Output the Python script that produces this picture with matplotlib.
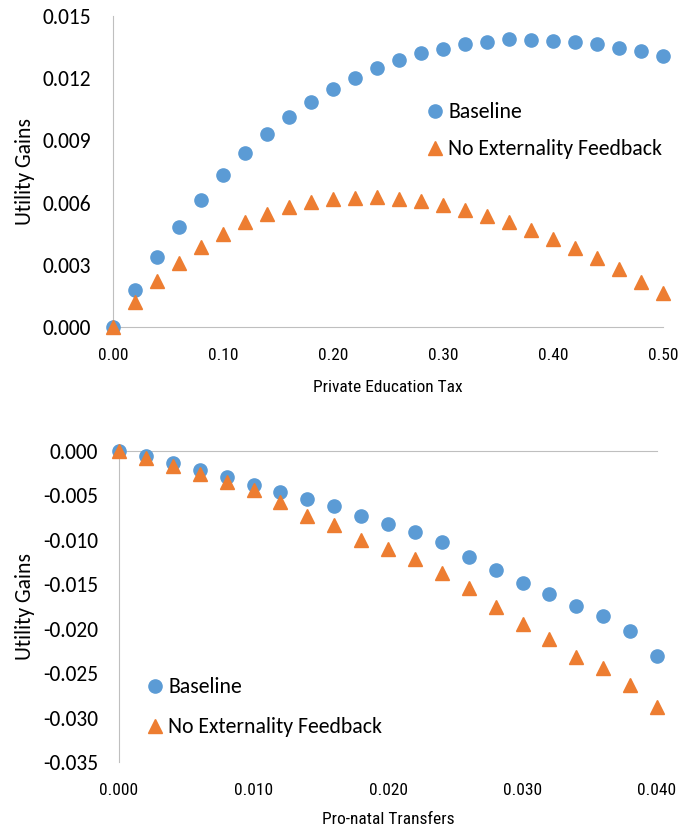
import matplotlib
matplotlib.use("Agg")
import matplotlib.pyplot as plt
from matplotlib.ticker import FixedLocator

plt.rcParams['font.family'] = ['Carlito', 'DejaVu Sans']
xfont = ['Roboto Condensed', 'Carlito']

blue = '#5B9BD5'
orange = '#ED7D31'
grey = '#BFBFBF'

# Top panel: private education tax
tax = [round(0.02 * i, 2) for i in range(26)]
tax_baseline = [0.0, 0.00179, 0.0034, 0.00484, 0.00614, 0.00731, 0.00837, 0.0093, 0.01015,
                0.01085, 0.01147, 0.0120, 0.01247, 0.01289, 0.01321, 0.01343, 0.01365,
                0.01377, 0.01387, 0.01385, 0.0138, 0.01376, 0.01365, 0.01348, 0.01332, 0.01308]
tax_no_ext = [0.0, 0.00122, 0.00223, 0.00311, 0.00387, 0.00449, 0.00505, 0.00545, 0.00579,
              0.00603, 0.00618, 0.00624, 0.00628, 0.00619, 0.0061, 0.0059, 0.00566,
              0.00537, 0.00505, 0.00469, 0.00426, 0.00381, 0.00331, 0.00279, 0.00219, 0.00163]

# Bottom panel: pro-natal transfers
transfers = [round(0.002 * i, 3) for i in range(21)]
tr_baseline = [0.0, -0.00056, -0.00135, -0.00218, -0.00293, -0.00379, -0.00458, -0.00537,
               -0.00616, -0.00728, -0.00818, -0.00916, -0.01029, -0.01194, -0.0134, -0.01486,
               -0.01614, -0.01749, -0.01862, -0.02027, -0.02309]
tr_no_ext = [0.0, -0.00083, -0.00173, -0.00255, -0.00349, -0.00443, -0.00571, -0.00732,
             -0.00837, -0.01002, -0.011, -0.0122, -0.0137, -0.01546, -0.01753, -0.01948,
             -0.0212, -0.02316, -0.02447, -0.02635, -0.02886]

top_yticks = [0.0, 0.003, 0.006, 0.009, 0.012, 0.015]
top_xticks = [0.0, 0.1, 0.2, 0.3, 0.4, 0.5]
bot_yticks = [0.0, -0.005, -0.01, -0.015, -0.02, -0.025, -0.03, -0.035]
bot_xticks = [0.0, 0.01, 0.02, 0.03, 0.04]

W, H = 683, 835
fig = plt.figure(figsize=(W / 100, H / 100), dpi=100)

fs_x = 12.5   # x axis text (ticks + title), condensed face
fs_y = 15.5   # y tick labels
fs_lab = 15.6
fs_leg = 15.7


def px_axes(left, top, right, bottom):
    return fig.add_axes([left / W, 1 - bottom / H, (right - left) / W, (bottom - top) / H])


def style_axes(ax, xfmt, xticks, yticks, ypad, xpad, ylab_x):
    ax.xaxis.set_major_locator(FixedLocator(xticks))
    ax.yaxis.set_major_locator(FixedLocator(yticks))
    ax.set_xticklabels([xfmt.format(v) for v in xticks], fontsize=fs_x, family=xfont)
    ax.set_yticklabels(["{:.3f}".format(v) for v in yticks], fontsize=fs_y)
    ax.tick_params(length=0)
    ax.tick_params(axis='y', pad=ypad)
    ax.tick_params(axis='x', pad=xpad)
    ax.spines['right'].set_visible(False)
    ax.set_ylabel('Utility Gains', fontsize=fs_lab)
    ax.yaxis.set_label_coords(ylab_x, 0.5)


# ---- top chart
ax1 = px_axes(113, 16, 663, 327)
ax1.plot(tax, tax_baseline, 'o', color=blue, markersize=9.5, label='Baseline', clip_on=False, zorder=3)
ax1.plot(tax, tax_no_ext, '^', color=orange, markersize=10, label='No Externality Feedback', clip_on=False, zorder=3)
ax1.set_xlim(0, 0.5)
ax1.set_ylim(0, 0.015)
style_axes(ax1, "{:.2f}", top_xticks, top_yticks, 16, 15.2, (35 - 113) / 550)
ax1.spines['top'].set_visible(False)
ax1.spines['left'].set_color(grey)
ax1.spines['bottom'].set_color(grey)
ax1.set_xlabel('Private Education Tax', fontsize=fs_x, family=xfont, labelpad=12)
ax1.legend(loc='upper left', frameon=False, fontsize=fs_leg, labelspacing=0.78,
           handletextpad=0.2, handlelength=0.8, borderaxespad=0,
           bbox_to_anchor=(417.6 / W, 1 - 93.7 / H), bbox_transform=fig.transFigure)

# ---- bottom chart
ax2 = px_axes(119, 451, 657, 762)
ax2.plot(transfers, tr_baseline, 'o', color=blue, markersize=9.5, label='Baseline', clip_on=False, zorder=3)
ax2.plot(transfers, tr_no_ext, '^', color=orange, markersize=10, label='No Externality Feedback', clip_on=False, zorder=3)
ax2.set_xlim(0, 0.04)
ax2.set_ylim(-0.035, 0)
style_axes(ax2, "{:.3f}", bot_xticks, bot_yticks, 15, 15.4, (35 - 119) / 538)
ax2.spines['bottom'].set_visible(False)
ax2.spines['left'].set_color(grey)
ax2.spines['top'].set_color(grey)
ax2.set_xlabel('Pro-natal Transfers', fontsize=fs_x, family=xfont, labelpad=10)
ax2.legend(loc='upper left', frameon=False, fontsize=fs_leg, labelspacing=0.91,
           handletextpad=0.2, handlelength=0.8, borderaxespad=0,
           bbox_to_anchor=(137.6 / W, 1 - 668.7 / H), bbox_transform=fig.transFigure)

fig.savefig('out.png', dpi=100)
